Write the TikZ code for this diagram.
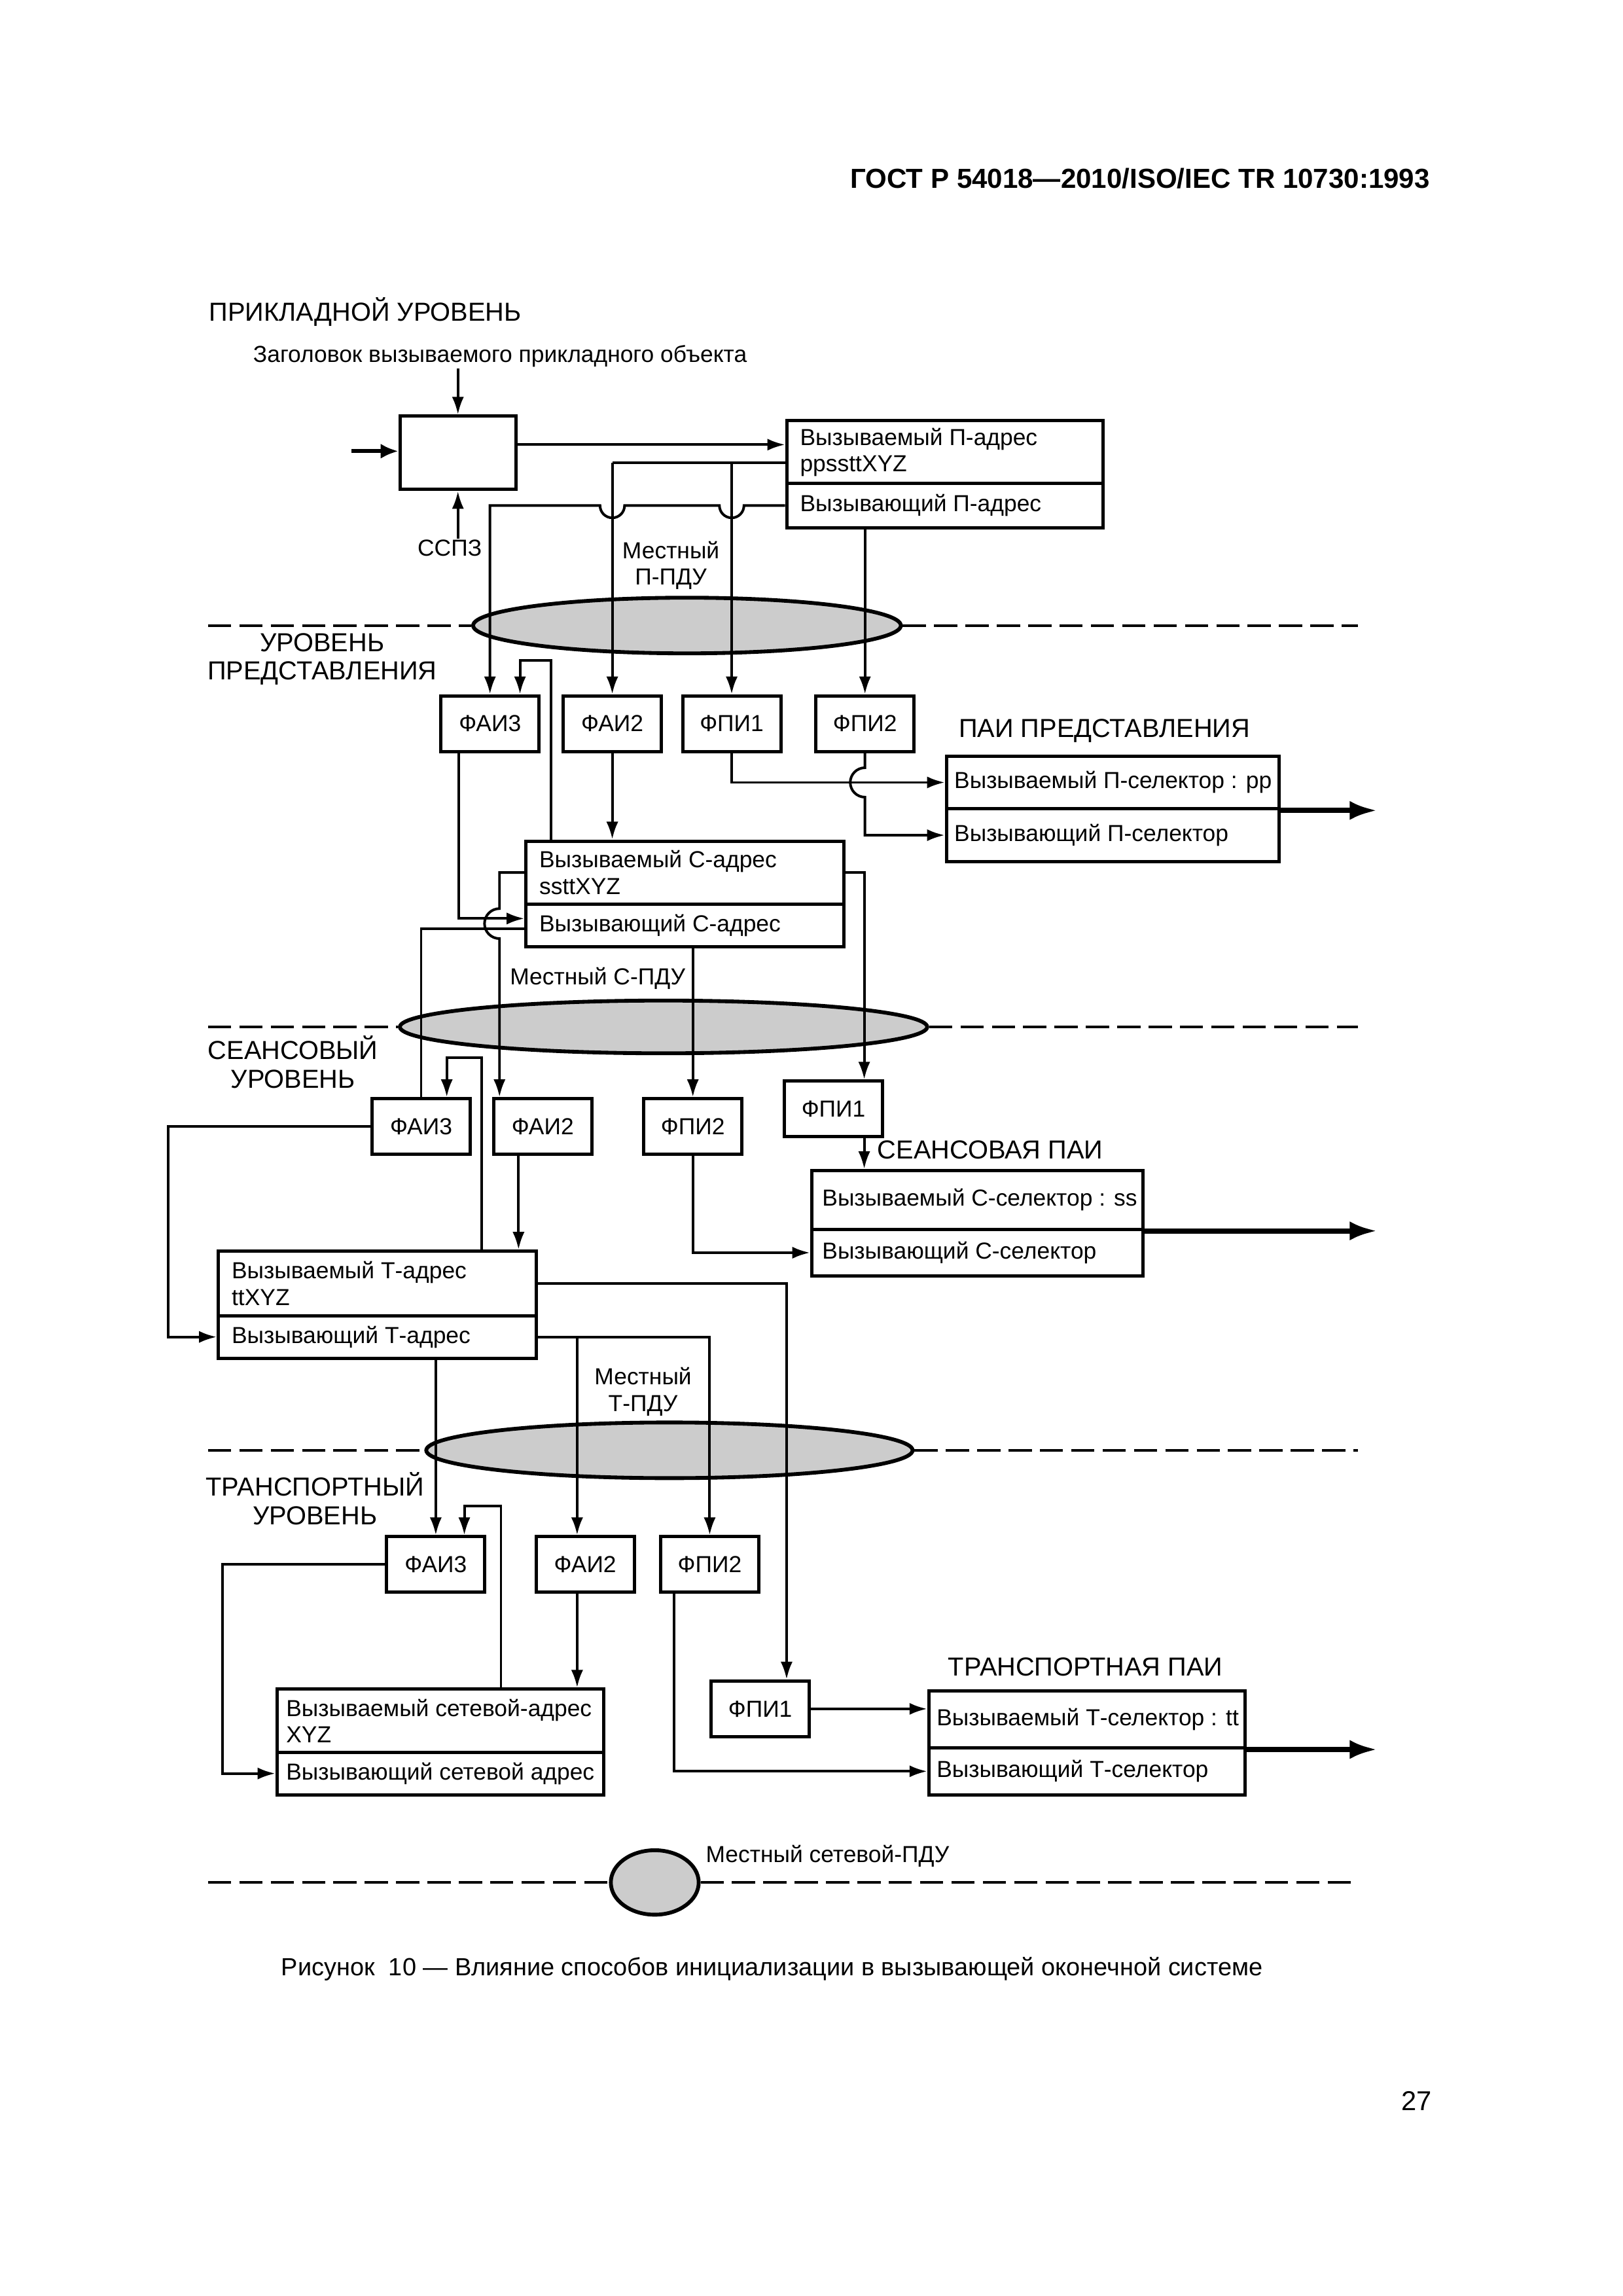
\documentclass[tikz,border=0pt]{standalone}
\usepackage{fontspec}
\setmainfont{Liberation Sans}
\usetikzlibrary{arrows.meta,shapes.geometric,calc}
\newcommand{\boxfont}{\fontsize{8.5}{9.7}\selectfont}
\newcommand{\levfont}{\fontsize{9.55}{10.4}\selectfont}

\begin{document}
\begin{tikzpicture}[x=0.53726pt, y=-0.53726pt, line width=0.95pt,
  blk/.style={draw, line width=1.2pt, minimum width=67*\U, minimum height=38*\U, inner sep=0pt, font=\boxfont},
  cell/.style={draw, line width=1.2pt, anchor=north west, inner sep=0pt},
  txt/.style={anchor=west, align=left, inner sep=0pt, font=\boxfont},
  lvl/.style={align=center, inner sep=0pt, font=\levfont},
  arr/.style={-{Latex[length=6.5pt,width=4.4pt]}},
  fat/.style={line width=1.9pt, -{Latex[length=10pt,width=7pt]}},
  pdu/.style={ellipse, draw, line width=1.4pt, fill=black!20, inner sep=0pt},
  cut/.style={line width=1pt, dash pattern=on 8.5pt off 3pt}]

  \newcommand\U{0.53726pt}
  \useasboundingbox (0,0) rectangle (1108,1567.3);

  \node[anchor=east, inner sep=0pt, font=\bfseries\fontsize{10.1}{12}\selectfont] (gost) at (977,122) {ГОСТ Р 54018—2010/ISO/IEC TR 10730:1993};
  \coordinate (outR) at (940,0);

  %% application level
  \node[lvl, anchor=west] (lApp) at (142,213) {ПРИКЛАДНОЙ УРОВЕНЬ};
  \node[txt] (hdr) at (172,243) {Заголовок вызываемого прикладного объекта};
  \node[cell, minimum width=79*\U, minimum height=50*\U] (app) at (272,283) {};
  \node[txt, anchor=center] (sspz) at (307,374) {ССПЗ};
  \coordinate (in) at (240,308);
  \node[cell, minimum width=216*\U, minimum height=43*\U] (pA1) at (536,286) {};
  \node[cell, minimum width=216*\U, minimum height=30*\U] (pA2) at (536,329) {};
  \node[txt] (pA1t) at ([xshift=5pt]pA1.west) {Вызываемый П-адрес\\ppssttXYZ};
  \node[txt] (pA2t) at ([xshift=5pt]pA2.west) {Вызывающий П-адрес};
  \node[txt, anchor=center, align=center] (pPdu) at (458,386) {Местный\\П-ПДУ};

  %% presentation level
  \node[pdu, minimum width=292*\U, minimum height=38*\U] (pEll) at (469,427) {};
  \draw[cut] (142,427) -- (pEll.west) (pEll.east) -- (927,427);
  \node[lvl] (lPres) at (220,450) {УРОВЕНЬ\\ПРЕДСТАВЛЕНИЯ};
  \node[blk] (pfai3) at (334.5,494) {ФАИ3};
  \node[blk] (pfai2) at (418,494) {ФАИ2};
  \node[blk] (pfpi1) at (499.5,494) {ФПИ1};
  \node[blk] (pfpi2) at (590.5,494) {ФПИ2};
  \node[lvl] (pPai) at (754,499) {ПАИ ПРЕДСТАВЛЕНИЯ};
  \node[cell, minimum width=227*\U, minimum height=36*\U] (pS1) at (645,515) {};
  \node[cell, minimum width=227*\U, minimum height=36*\U] (pS2) at (645,551) {};
  \node[txt] (pS1t) at ([xshift=3pt]pS1.west) {Вызываемый П-селектор : pp};
  \node[txt] (pS2t) at ([xshift=3pt]pS2.west) {Вызывающий П-селектор};
  \node[cell, minimum width=217*\U, minimum height=43*\U] (sA1) at (358,573) {};
  \node[cell, minimum width=217*\U, minimum height=29*\U] (sA2) at (358,616) {};
  \node[txt] (sA1t) at ([xshift=5pt]sA1.west) {Вызываемый С-адрес\\ssttXYZ};
  \node[txt] (sA2t) at ([xshift=5pt]sA2.west) {Вызывающий С-адрес};
  \node[txt, anchor=center] (sPdu) at (408,668) {Местный С-ПДУ};

  %% session level
  \node[pdu, minimum width=360*\U, minimum height=36*\U] (sEll) at (453,701) {};
  \draw[cut] (142,701) -- (sEll.west) (sEll.east) -- (927,701);
  \node[lvl] (lSes) at (200,725) {СЕАНСОВЫЙ\\УРОВЕНЬ};
  \node[blk] (sfai3) at (287.5,769) {ФАИ3};
  \node[blk] (sfai2) at (370.5,769) {ФАИ2};
  \node[blk] (sfpi2) at (473,769) {ФПИ2};
  \node[blk] (sfpi1) at (569,757) {ФПИ1};
  \node[lvl] (sPai) at (676,785) {СЕАНСОВАЯ ПАИ};
  \node[cell, minimum width=226*\U, minimum height=40*\U] (sS1) at (553,798) {};
  \node[cell, minimum width=226*\U, minimum height=32*\U] (sS2) at (553,838) {};
  \node[txt] (sS1t) at ([xshift=4pt]sS1.west) {Вызываемый С-селектор : ss};
  \node[txt] (sS2t) at ([xshift=4pt]sS2.west) {Вызывающий С-селектор};
  \node[cell, minimum width=217*\U, minimum height=44*\U] (tA1) at (148,853) {};
  \node[cell, minimum width=217*\U, minimum height=29*\U] (tA2) at (148,897) {};
  \node[txt] (tA1t) at ([xshift=5pt]tA1.west) {Вызываемый Т-адрес\\ttXYZ};
  \node[txt] (tA2t) at ([xshift=5pt]tA2.west) {Вызывающий Т-адрес};
  \node[txt, anchor=center, align=center] (tPdu) at (439,950) {Местный\\Т-ПДУ};

  %% transport level
  \node[pdu, minimum width=332*\U, minimum height=38*\U] (tEll) at (457,990) {};
  \draw[cut] (142,990) -- (tEll.west) (tEll.east) -- (927,990);
  \node[lvl] (lTr) at (215,1023) {ТРАНСПОРТНЫЙ\\УРОВЕНЬ};
  \node[blk] (tfai3) at (297.5,1068) {ФАИ3};
  \node[blk] (tfai2) at (399.5,1068) {ФАИ2};
  \node[blk] (tfpi2) at (484.5,1068) {ФПИ2};
  \node[blk] (tfpi1) at (519,1166.5) {ФПИ1};
  \node[lvl] (tPai) at (741,1138) {ТРАНСПОРТНАЯ ПАИ};
  \node[cell, minimum width=216*\U, minimum height=39*\U] (tS1) at (633,1153) {};
  \node[cell, minimum width=216*\U, minimum height=32*\U] (tS2) at (633,1192) {};
  \node[txt] (tS1t) at ([xshift=3pt]tS1.west) {Вызываемый Т-селектор : tt};
  \node[txt] (tS2t) at ([xshift=3pt]tS2.west) {Вызывающий Т-селектор};
  \node[cell, minimum width=223*\U, minimum height=43*\U] (nA1) at (188,1152) {};
  \node[cell, minimum width=223*\U, minimum height=29*\U] (nA2) at (188,1195) {};
  \node[txt] (nA1t) at ([xshift=3.5pt]nA1.west) {Вызываемый сетевой-адрес\\XYZ};
  \node[txt] (nA2t) at ([xshift=3.5pt]nA2.west) {Вызывающий сетевой адрес};

  %% network level
  \node[pdu, minimum width=60*\U, minimum height=44*\U] (nEll) at (447,1285) {};
  \draw[cut] (142,1285) -- (nEll.west) (nEll.east) -- (927,1285);
  \node[txt] (nPdu) at (481,1267) {Местный сетевой-ПДУ};

  \node[inner sep=0pt, font=\fontsize{9.1}{11}\selectfont] (cap) at (527,1344) {Рисунок\ \ 10 — Влияние способов инициализации в вызывающей оконечной системе};
  \node[inner sep=0pt, font=\fontsize{10}{12}\selectfont] (page) at (967,1434) {27};

  %% application connectors
  \draw[arr] (hdr.south -| app.north) -- (app.north);
  \draw[arr] (sspz.north -| app.south) -- (app.south);
  \draw[line width=1.5pt, -{Latex[length=6.5pt,width=5.5pt]}] (in) -- (in -| app.west);
  \draw[arr] ([yshift=3pt]app.east) -- ([yshift=3pt]app.east -| pA1.west);
  \coordinate (pj) at (0,316);
  \draw (pA1.west |- pj) -- (pfai2.north |- pj);
  \draw[arr] (pfai2.north |- pj) -- (pfai2.north);
  \draw[arr] (pfpi1.north |- pj) -- (pfpi1.north);
  \draw[arr] (pA2.west) -- ($(pfpi1.north |- pA2.west)+(4.5pt,0pt)$)
    arc[start angle=0, end angle=-180, radius=4.5pt]
    -- ($(pfai2.north |- pA2.west)+(4.5pt,0pt)$)
    arc[start angle=0, end angle=-180, radius=4.5pt]
    -- (pfai3.north |- pA2.west) -- (pfai3.north); %% hops over the two drops
  \draw[arr] (pfpi2.north |- pA2.south) -- (pfpi2.north);

  %% presentation connectors
  \draw[arr] (pfpi1.south) |- (pS1.west);
  \draw[arr] (pfpi2.south) -- ($(pfpi2.south |- pS1.west)+(0pt,5.4pt)$)
    arc[start angle=90, end angle=270, radius=5.4pt] |- (pS2.west);
  \draw[fat] (pS1.south east) -- (pS1.south east -| outR);
  \draw[arr] (pfai2.south) -- (pfai2.south |- sA1.north);
  \coordinate (pLoop) at (376,451);
  \coordinate (pLoopB) at (355,451);
  \draw[arr] (sA1.north -| pLoop) -- (pLoop) -- (pLoopB) -- (pLoopB |- pfai3.north);
  \coordinate (pOut) at (313,627);
  \draw[arr] (pOut |- pfai3.south) -- (pOut) -- (pOut -| sA2.west);

  %% session connectors
  \coordinate (sIn) at (288,634);
  \draw (sfai3.north) -- (sfai3.north |- sIn) -- (sIn -| sA2.west);
  \coordinate (sL) at (341,0);
  \draw[arr] (sA1.west) -| ($(sL |- sIn)+(0pt,7.4pt)$)
    arc[start angle=90, end angle=270, radius=5.5pt] -- (sL |- sfai2.north);
  \coordinate (sR) at (590,0);
  \draw[arr] (sA1.east) -| (sR |- sfpi1.north);
  \draw[arr] (sfpi2.north |- sA2.south) -- (sfpi2.north);
  \draw[arr] (sR |- sfpi1.south) -- (sR |- sS1.north);
  \draw[arr] (sfpi2.south) |- (sS2.west);
  \draw[fat] (sS1.south east) -- (sS1.south east -| outR);
  \coordinate (sX) at (115,0);
  \draw[arr] (sfai3.west) -| (sX |- tA2.west) -- (tA2.west);
  \coordinate (sD) at (354,0);
  \draw[arr] (sD |- sfai2.south) -- (sD |- tA1.north);
  \coordinate (sLoop) at (329,722);
  \coordinate (sLoopB) at (305,722);
  \draw[arr] (tA1.north -| sLoop) -- (sLoop) -- (sLoopB) -- (sLoopB |- sfai3.north);

  %% transport connectors
  \coordinate (tR) at (537,0);
  \draw[arr] (tA1.east) -| (tR |- tfpi1.north);
  \coordinate (tB) at (394,0);
  \draw[arr] (tA2.east) -| (tfpi2.north);
  \draw[arr] (tB |- tA2.east) -- (tB |- tfai2.north);
  \draw[arr] (tfai3.north |- tA2.south) -- (tfai3.north);
  \coordinate (tLoop) at (342,1028);
  \coordinate (tLoopB) at (317,1028);
  \draw[arr] (nA1.north -| tLoop) -- (tLoop) -- (tLoopB) -- (tLoopB |- tfai3.north);
  \coordinate (tX) at (152,0);
  \draw[arr] (tfai3.west) -| (tX |- nA2.west) -- (nA2.west);
  \draw[arr] (tB |- tfai2.south) -- (tB |- nA1.north);
  \coordinate (tO) at (460,0);
  \draw[arr] (tO |- tfpi2.south) |- (tS2.west);
  \draw[arr] (tfpi1.east) -- (tfpi1.east -| tS1.west);
  \draw[fat] (tS1.south east) -- (tS1.south east -| outR);
\end{tikzpicture}
\end{document}
